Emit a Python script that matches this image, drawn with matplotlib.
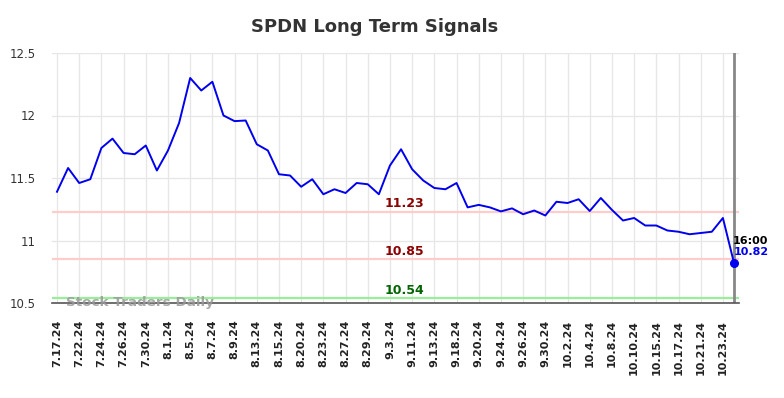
import matplotlib
matplotlib.use("Agg")
import matplotlib.pyplot as plt

values = [11.39, 11.58, 11.46, 11.49, 11.74, 11.815, 11.70, 11.69, 11.76, 11.56,
          11.72, 11.94, 12.30, 12.20, 12.27, 12.00, 11.955, 11.96, 11.77, 11.72,
          11.53, 11.52, 11.43, 11.49, 11.37, 11.41, 11.38, 11.46, 11.45, 11.37,
          11.60, 11.73, 11.57, 11.48, 11.42, 11.41, 11.46, 11.265, 11.285, 11.265,
          11.233, 11.257, 11.21, 11.24, 11.20, 11.31, 11.30, 11.33, 11.236, 11.34,
          11.245, 11.16, 11.18, 11.12, 11.12, 11.08, 11.07, 11.05, 11.06, 11.07,
          11.18, 10.82]
tick_labels = ["7.17.24", "7.22.24", "7.24.24", "7.26.24", "7.30.24", "8.1.24", "8.5.24",
               "8.7.24", "8.9.24", "8.13.24", "8.15.24", "8.20.24", "8.23.24", "8.27.24",
               "8.29.24", "9.3.24", "9.11.24", "9.13.24", "9.18.24", "9.20.24", "9.24.24",
               "9.26.24", "9.30.24", "10.2.24", "10.4.24", "10.8.24", "10.10.24",
               "10.15.24", "10.17.24", "10.21.24", "10.23.24"]
levels = [11.23, 10.85, 10.54]
level_colors = ["#ffcccc", "#ffcccc", "#99ee99"]
level_text_colors = ["#8b0000", "#8b0000", "#006400"]
yticks = [10.5, 11, 11.5, 12, 12.5]
ytick_labels = ["10.5", "11", "11.5", "12", "12.5"]
last_time = "16:00"

fig = plt.figure(figsize=(7.84, 3.98), dpi=100)
ax = fig.add_axes([52/784, 1-303/398, (739-52)/784, (303-53)/398])

x = list(range(len(values)))
ax.set_xlim(-0.45, len(values) - 1 + 0.45)
ax.set_ylim(10.5, 12.5)

ax.set_yticks(yticks)
ax.set_yticklabels(ytick_labels, fontsize=8.5, color="#333333")
ax.set_xticks(x[::2])
ax.set_xticklabels(tick_labels, rotation=90, fontsize=8, fontweight="bold", color="#222222")
ax.tick_params(axis="x", length=0, pad=12)
ax.tick_params(axis="y", length=0, pad=12)
ax.grid(True, color="#e6e6e6", linewidth=0.9)
ax.set_axisbelow(True)
for s in ["top", "right", "left"]:
    ax.spines[s].set_visible(False)
ax.spines["bottom"].set_color("#555555")
ax.spines["bottom"].set_linewidth(1.2)

for lv, c, tc in zip(levels, level_colors, level_text_colors):
    ax.axhline(lv, color=c, linewidth=1.6, zorder=1)
    ax.text(31.3, lv + 0.012, f"{lv:.2f}", color=tc, fontsize=9, fontweight="bold",
            ha="center", va="bottom")

ax.text(0.8, 10.505, "Stock Traders Daily", color="#999999", alpha=0.85, fontsize=9.7,
        fontweight="bold", ha="left", va="center")

ax.plot(x, values, color="#0000ee", linewidth=1.4, zorder=3)
ax.axvline(x[-1], color="#888888", linewidth=2, zorder=2)
ax.plot([x[-1]], [values[-1]], "o", color="#0000ee", markersize=5.5, zorder=4)
ax.text(x[-1] - 0.1, values[-1] + 0.135, last_time, color="black", fontsize=8,
        fontweight="bold", ha="left", va="bottom")
ax.text(x[-1] - 0.05, values[-1] + 0.125, f"{values[-1]:.2f}", color="#0000ee", fontsize=8,
        fontweight="bold", ha="left", va="top")

fig.suptitle("SPDN Long Term Signals", x=0.478, y=0.955, fontsize=13, fontweight="bold",
             color="#333333")

fig.savefig("out.png", dpi=100)
